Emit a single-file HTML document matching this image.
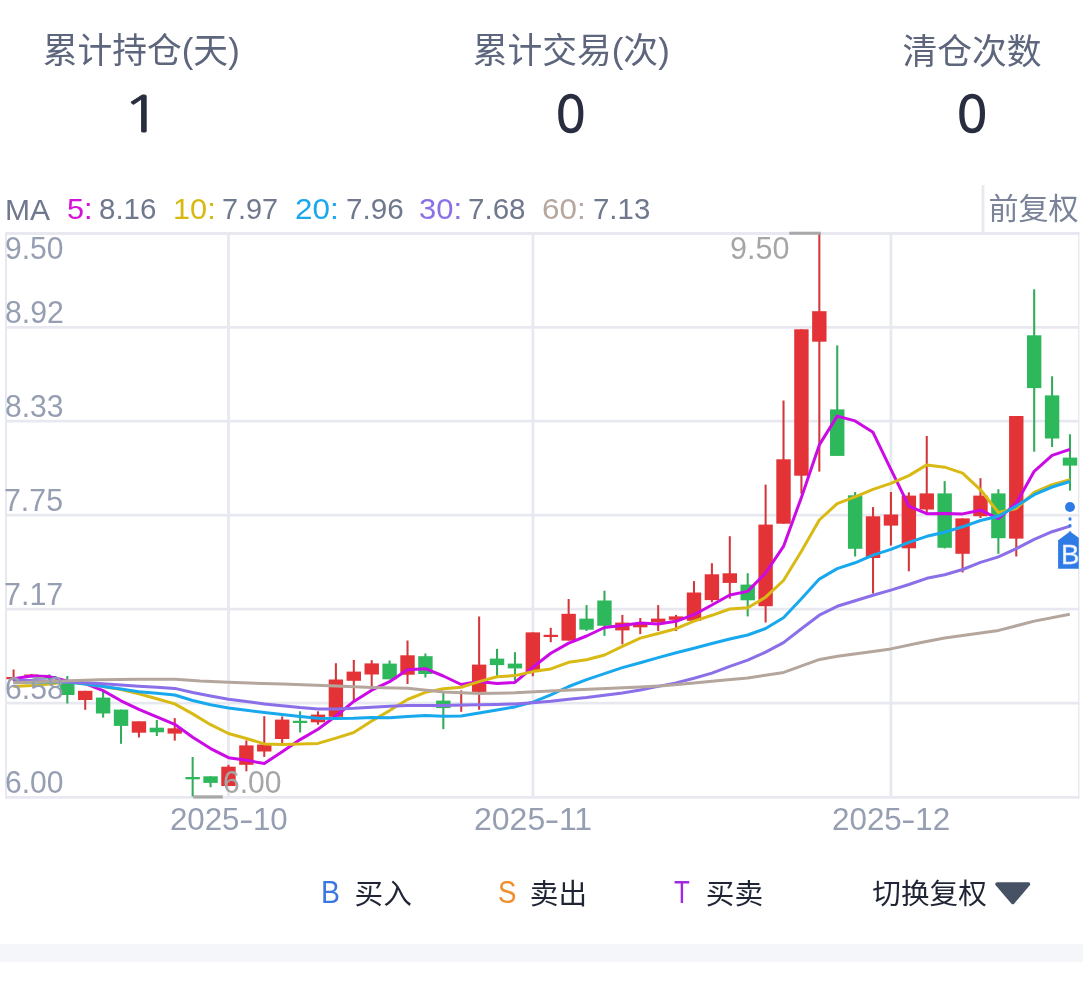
<!DOCTYPE html>
<html lang="zh-CN"><head><meta charset="utf-8"><title>持仓统计</title>
<style>
html,body{margin:0;padding:0;background:#fff;}
body{width:1083px;height:981px;position:relative;overflow:hidden;font-family:"Liberation Sans","Noto Sans CJK SC",sans-serif;}
.t{position:absolute;line-height:1;white-space:nowrap;transform-origin:0 0;font-family:"Liberation Sans","Noto Sans CJK SC",sans-serif;}
.band{position:absolute;left:0;top:944.2px;width:1083px;height:17.4px;background:#f5f6fa;}
svg{position:absolute;left:0;top:0;}
.t i{font-style:normal;display:inline-block;transform:scaleX(1.4);margin:0 1.5px;}
</style></head><body>
<svg width="1083" height="981" viewBox="0 0 1083 981">
<defs><clipPath id="cc"><rect x="0" y="230" width="1078.8" height="570"/></clipPath></defs>
<g stroke="#e8e9f0" stroke-width="2.8" fill="none">
<line x1="5" y1="233.5" x2="1079.4" y2="233.5"/>
<line x1="5" y1="327.3" x2="1079.4" y2="327.3"/>
<line x1="5" y1="421.1" x2="1079.4" y2="421.1"/>
<line x1="5" y1="515.1" x2="1079.4" y2="515.1"/>
<line x1="5" y1="609.2" x2="1079.4" y2="609.2"/>
<line x1="5" y1="703.1" x2="1079.4" y2="703.1"/>
<line x1="5" y1="797.3" x2="1079.4" y2="797.3"/>
<line x1="228.5" y1="233" x2="228.5" y2="797"/>
<line x1="532.9" y1="233" x2="532.9" y2="797"/>
<line x1="890.9" y1="233" x2="890.9" y2="797"/>
<line x1="6" y1="232.1" x2="6" y2="798.7" stroke-width="2"/>
<line x1="1078.7" y1="232.1" x2="1078.7" y2="798.7" stroke-width="1.4"/>
<line x1="983" y1="185" x2="983" y2="233" />
</g>
<g>
<rect x="12.57" y="669.5" width="2.05" height="11.5" fill="#d2383b"/>
<rect x="6.40" y="677.0" width="14.4" height="2.2" fill="#e33336"/>
<rect x="30.48" y="674.0" width="2.05" height="3.0" fill="#d2383b"/>
<rect x="24.31" y="674.5" width="14.4" height="2.5" fill="#e33336"/>
<rect x="48.39" y="674.4" width="2.05" height="7.6" fill="#33ab5a"/>
<rect x="42.21" y="676.0" width="14.4" height="2.7" fill="#2eb85c"/>
<rect x="66.29" y="676.0" width="2.05" height="27.5" fill="#33ab5a"/>
<rect x="60.11" y="681.5" width="14.4" height="13.5" fill="#2eb85c"/>
<rect x="84.19" y="690.8" width="2.05" height="19.0" fill="#d2383b"/>
<rect x="78.02" y="690.8" width="14.4" height="9.2" fill="#e33336"/>
<rect x="102.10" y="690.8" width="2.05" height="26.8" fill="#33ab5a"/>
<rect x="95.92" y="697.6" width="14.4" height="15.9" fill="#2eb85c"/>
<rect x="120.00" y="709.6" width="2.05" height="34.2" fill="#33ab5a"/>
<rect x="113.83" y="709.6" width="14.4" height="16.3" fill="#2eb85c"/>
<rect x="137.91" y="721.3" width="2.05" height="16.2" fill="#d2383b"/>
<rect x="131.74" y="721.3" width="14.4" height="11.4" fill="#e33336"/>
<rect x="155.81" y="720.0" width="2.05" height="16.0" fill="#33ab5a"/>
<rect x="149.64" y="727.7" width="14.4" height="4.6" fill="#2eb85c"/>
<rect x="173.72" y="718.1" width="2.05" height="22.5" fill="#d2383b"/>
<rect x="167.55" y="728.3" width="14.4" height="5.3" fill="#e33336"/>
<rect x="191.62" y="757.0" width="2.05" height="39.5" fill="#33ab5a"/>
<rect x="185.45" y="777.0" width="14.4" height="2.3" fill="#2eb85c"/>
<rect x="209.53" y="776.3" width="2.05" height="11.0" fill="#33ab5a"/>
<rect x="203.36" y="776.3" width="14.4" height="6.6" fill="#2eb85c"/>
<rect x="227.44" y="764.8" width="2.05" height="21.2" fill="#d2383b"/>
<rect x="221.26" y="766.7" width="14.4" height="19.3" fill="#e33336"/>
<rect x="245.34" y="740.4" width="2.05" height="30.9" fill="#d2383b"/>
<rect x="239.17" y="745.4" width="14.4" height="19.4" fill="#e33336"/>
<rect x="263.25" y="716.2" width="2.05" height="40.7" fill="#d2383b"/>
<rect x="257.07" y="744.5" width="14.4" height="7.0" fill="#e33336"/>
<rect x="281.15" y="716.4" width="2.05" height="26.6" fill="#d2383b"/>
<rect x="274.98" y="719.6" width="14.4" height="19.4" fill="#e33336"/>
<rect x="299.06" y="711.3" width="2.05" height="21.2" fill="#33ab5a"/>
<rect x="292.88" y="720.8" width="14.4" height="2.2" fill="#2eb85c"/>
<rect x="316.96" y="711.3" width="2.05" height="13.3" fill="#d2383b"/>
<rect x="310.79" y="714.6" width="14.4" height="7.7" fill="#e33336"/>
<rect x="334.87" y="663.2" width="2.05" height="53.6" fill="#d2383b"/>
<rect x="328.69" y="679.5" width="14.4" height="37.3" fill="#e33336"/>
<rect x="352.77" y="659.9" width="2.05" height="42.1" fill="#d2383b"/>
<rect x="346.60" y="671.6" width="14.4" height="9.2" fill="#e33336"/>
<rect x="370.68" y="660.2" width="2.05" height="26.3" fill="#d2383b"/>
<rect x="364.50" y="663.4" width="14.4" height="11.1" fill="#e33336"/>
<rect x="388.58" y="660.5" width="2.05" height="18.8" fill="#33ab5a"/>
<rect x="382.41" y="663.6" width="14.4" height="15.7" fill="#2eb85c"/>
<rect x="406.49" y="640.5" width="2.05" height="43.5" fill="#d2383b"/>
<rect x="400.31" y="655.3" width="14.4" height="19.4" fill="#e33336"/>
<rect x="424.39" y="653.5" width="2.05" height="24.0" fill="#33ab5a"/>
<rect x="418.22" y="656.2" width="14.4" height="17.8" fill="#2eb85c"/>
<rect x="442.30" y="692.0" width="2.05" height="37.2" fill="#33ab5a"/>
<rect x="436.12" y="700.6" width="14.4" height="7.5" fill="#2eb85c"/>
<rect x="460.20" y="690.4" width="2.05" height="21.4" fill="#d2383b"/>
<rect x="454.03" y="704.0" width="14.4" height="2.2" fill="#e33336"/>
<rect x="478.11" y="616.5" width="2.05" height="93.3" fill="#d2383b"/>
<rect x="471.93" y="664.6" width="14.4" height="27.3" fill="#e33336"/>
<rect x="496.01" y="648.9" width="2.05" height="27.3" fill="#33ab5a"/>
<rect x="489.84" y="658.6" width="14.4" height="6.5" fill="#2eb85c"/>
<rect x="513.92" y="652.2" width="2.05" height="28.6" fill="#33ab5a"/>
<rect x="507.74" y="663.6" width="14.4" height="4.8" fill="#2eb85c"/>
<rect x="531.82" y="632.4" width="2.05" height="43.8" fill="#d2383b"/>
<rect x="525.64" y="632.4" width="14.4" height="39.2" fill="#e33336"/>
<rect x="549.73" y="627.8" width="2.05" height="14.4" fill="#d2383b"/>
<rect x="543.55" y="634.8" width="14.4" height="2.2" fill="#e33336"/>
<rect x="567.63" y="599.0" width="2.05" height="41.6" fill="#d2383b"/>
<rect x="561.46" y="613.8" width="14.4" height="26.8" fill="#e33336"/>
<rect x="585.54" y="605.1" width="2.05" height="25.9" fill="#33ab5a"/>
<rect x="579.36" y="618.6" width="14.4" height="11.1" fill="#2eb85c"/>
<rect x="603.44" y="590.7" width="2.05" height="45.2" fill="#33ab5a"/>
<rect x="597.26" y="600.5" width="14.4" height="25.3" fill="#2eb85c"/>
<rect x="621.35" y="614.9" width="2.05" height="29.4" fill="#d2383b"/>
<rect x="615.17" y="622.6" width="14.4" height="7.8" fill="#e33336"/>
<rect x="639.25" y="618.0" width="2.05" height="16.1" fill="#d2383b"/>
<rect x="633.08" y="623.2" width="14.4" height="4.1" fill="#e33336"/>
<rect x="657.16" y="605.1" width="2.05" height="25.9" fill="#d2383b"/>
<rect x="650.98" y="618.6" width="14.4" height="3.5" fill="#e33336"/>
<rect x="675.06" y="614.9" width="2.05" height="16.1" fill="#d2383b"/>
<rect x="668.88" y="616.4" width="14.4" height="3.5" fill="#e33336"/>
<rect x="692.97" y="581.1" width="2.05" height="39.7" fill="#d2383b"/>
<rect x="686.79" y="592.5" width="14.4" height="28.3" fill="#e33336"/>
<rect x="710.87" y="563.2" width="2.05" height="39.1" fill="#d2383b"/>
<rect x="704.70" y="574.3" width="14.4" height="25.8" fill="#e33336"/>
<rect x="728.78" y="536.2" width="2.05" height="62.4" fill="#d2383b"/>
<rect x="722.60" y="573.3" width="14.4" height="9.6" fill="#e33336"/>
<rect x="746.68" y="573.2" width="2.05" height="43.2" fill="#33ab5a"/>
<rect x="740.50" y="584.6" width="14.4" height="15.7" fill="#2eb85c"/>
<rect x="764.59" y="484.6" width="2.05" height="137.9" fill="#d2383b"/>
<rect x="758.41" y="524.6" width="14.4" height="81.6" fill="#e33336"/>
<rect x="782.49" y="400.5" width="2.05" height="123.2" fill="#d2383b"/>
<rect x="776.32" y="459.3" width="14.4" height="64.4" fill="#e33336"/>
<rect x="800.40" y="329.3" width="2.05" height="164.5" fill="#d2383b"/>
<rect x="794.22" y="329.3" width="14.4" height="146.4" fill="#e33336"/>
<rect x="818.30" y="232.8" width="2.05" height="238.8" fill="#d2383b"/>
<rect x="812.12" y="311.2" width="14.4" height="30.5" fill="#e33336"/>
<rect x="836.21" y="345.4" width="2.05" height="110.5" fill="#33ab5a"/>
<rect x="830.03" y="409.4" width="14.4" height="46.5" fill="#2eb85c"/>
<rect x="854.11" y="492.0" width="2.05" height="64.5" fill="#33ab5a"/>
<rect x="847.94" y="495.3" width="14.4" height="53.5" fill="#2eb85c"/>
<rect x="872.02" y="507.1" width="2.05" height="86.4" fill="#d2383b"/>
<rect x="865.84" y="516.3" width="14.4" height="41.7" fill="#e33336"/>
<rect x="889.92" y="492.0" width="2.05" height="53.5" fill="#d2383b"/>
<rect x="883.75" y="514.5" width="14.4" height="11.1" fill="#e33336"/>
<rect x="907.83" y="492.3" width="2.05" height="79.0" fill="#d2383b"/>
<rect x="901.65" y="495.6" width="14.4" height="52.7" fill="#e33336"/>
<rect x="925.73" y="436.0" width="2.05" height="77.7" fill="#d2383b"/>
<rect x="919.56" y="493.4" width="14.4" height="16.1" fill="#e33336"/>
<rect x="943.64" y="481.1" width="2.05" height="67.4" fill="#33ab5a"/>
<rect x="937.46" y="493.4" width="14.4" height="54.4" fill="#2eb85c"/>
<rect x="961.54" y="518.4" width="2.05" height="54.1" fill="#d2383b"/>
<rect x="955.37" y="518.4" width="14.4" height="35.4" fill="#e33336"/>
<rect x="979.45" y="478.2" width="2.05" height="39.8" fill="#d2383b"/>
<rect x="973.27" y="495.6" width="14.4" height="20.6" fill="#e33336"/>
<rect x="997.35" y="489.2" width="2.05" height="64.6" fill="#33ab5a"/>
<rect x="991.18" y="493.4" width="14.4" height="44.8" fill="#2eb85c"/>
<rect x="1015.26" y="416.0" width="2.05" height="140.5" fill="#d2383b"/>
<rect x="1009.08" y="416.0" width="14.4" height="122.6" fill="#e33336"/>
<rect x="1033.16" y="289.3" width="2.05" height="162.4" fill="#33ab5a"/>
<rect x="1026.98" y="335.3" width="14.4" height="52.8" fill="#2eb85c"/>
<rect x="1051.06" y="376.3" width="2.05" height="70.7" fill="#33ab5a"/>
<rect x="1044.89" y="395.4" width="14.4" height="43.1" fill="#2eb85c"/>
<rect x="1068.97" y="434.3" width="2.05" height="56.3" fill="#33ab5a"/>
<rect x="1062.79" y="457.6" width="14.4" height="8.0" fill="#2eb85c"/>
</g>
<polyline points="13.6,678.8 31.5,676.0 49.4,676.6 67.3,681.0 85.2,683.5 103.1,690.6 121.0,700.8 138.9,709.3 156.8,716.8 174.7,724.3 192.7,737.2 210.6,748.6 228.5,757.7 246.4,760.3 264.3,763.5 282.2,751.8 300.1,739.6 318.0,729.2 335.9,716.0 353.8,701.4 371.7,690.2 389.6,681.7 407.5,669.8 425.4,668.7 443.3,676.0 461.2,684.5 479.1,681.6 497.0,683.5 514.9,682.4 532.8,667.3 550.8,653.3 568.7,643.1 586.6,636.0 604.5,627.5 622.4,625.6 640.3,623.0 658.2,624.0 676.1,621.3 694.0,614.7 711.9,605.0 729.8,595.0 747.7,591.4 765.6,573.0 783.5,546.4 801.4,497.4 819.3,444.9 837.2,416.1 855.1,420.9 873.0,432.3 890.9,469.3 908.9,506.2 926.8,513.7 944.7,513.5 962.6,513.9 980.5,510.2 998.4,518.7 1016.3,503.2 1034.2,471.3 1052.1,455.3 1070.0,449.3" fill="none" stroke="#cb0ae6" stroke-width="3" stroke-linejoin="round" stroke-linecap="butt"/>
<polyline points="13.6,686.6 31.5,685.5 49.4,684.0 67.3,681.5 85.2,684.0 103.1,686.5 121.0,689.6 138.9,693.8 156.8,698.7 174.7,703.9 192.7,713.9 210.6,724.7 228.5,733.5 246.4,738.5 264.3,743.9 282.2,744.5 300.1,744.1 318.0,743.4 335.9,738.1 353.8,732.5 371.7,721.0 389.6,710.6 407.5,699.5 425.4,692.4 443.3,688.7 461.2,687.3 479.1,681.6 497.0,676.7 514.9,675.6 532.8,671.6 550.8,668.9 568.7,662.3 586.6,659.8 604.5,655.0 622.4,646.4 640.3,638.1 658.2,633.5 676.1,628.7 694.0,621.1 711.9,615.3 729.8,609.0 747.7,607.7 765.6,597.2 783.5,580.5 801.4,551.2 819.3,520.0 837.2,503.7 855.1,496.9 873.0,489.3 890.9,483.4 908.9,475.6 926.8,464.9 944.7,467.2 962.6,473.1 980.5,489.8 998.4,512.5 1016.3,508.5 1034.2,492.4 1052.1,484.6 1070.0,479.7" fill="none" stroke="#d9ba14" stroke-width="3" stroke-linejoin="round" stroke-linecap="butt"/>
<polyline points="13.6,682.5 31.5,682.3 49.4,682.0 67.3,682.0 85.2,684.0 103.1,686.5 121.0,689.0 138.9,691.7 156.8,693.3 174.7,695.0 192.7,700.5 210.6,704.8 228.5,707.9 246.4,710.3 264.3,712.5 282.2,714.5 300.1,716.4 318.0,718.3 335.9,718.6 353.8,718.2 371.7,717.4 389.6,717.7 407.5,716.5 425.4,715.4 443.3,716.3 461.2,715.9 479.1,712.9 497.0,710.0 514.9,706.9 532.8,702.1 550.8,694.9 568.7,686.5 586.6,679.6 604.5,673.7 622.4,667.6 640.3,662.7 658.2,657.6 676.1,652.7 694.0,648.3 711.9,643.5 729.8,639.0 747.7,635.0 765.6,628.5 783.5,617.7 801.4,598.8 819.3,579.1 837.2,568.6 855.1,562.8 873.0,555.2 890.9,549.3 908.9,542.3 926.8,536.3 944.7,532.2 962.6,526.8 980.5,520.5 998.4,516.2 1016.3,506.1 1034.2,494.7 1052.1,487.0 1070.0,481.5" fill="none" stroke="#18a8ee" stroke-width="3" stroke-linejoin="round" stroke-linecap="butt"/>
<polyline points="13.6,680.3 31.5,680.5 49.4,681.0 67.3,682.0 85.2,682.8 103.1,683.8 121.0,685.0 138.9,686.2 156.8,687.3 174.7,688.4 192.7,692.5 210.6,696.0 228.5,699.3 246.4,701.6 264.3,703.9 282.2,705.8 300.1,707.6 318.0,708.9 335.9,708.9 353.8,708.3 371.7,707.2 389.6,706.3 407.5,705.4 425.4,705.4 443.3,705.4 461.2,705.1 479.1,704.8 497.0,704.4 514.9,703.9 532.8,702.7 550.8,701.3 568.7,699.2 586.6,697.6 604.5,695.3 622.4,693.0 640.3,690.0 658.2,686.4 676.1,682.9 694.0,678.3 711.9,673.1 729.8,666.3 747.7,660.2 765.6,652.1 783.5,642.6 801.4,628.8 819.3,615.2 837.2,606.3 855.1,600.8 873.0,595.3 890.9,590.1 908.9,584.5 926.8,578.3 944.7,574.7 962.6,569.5 980.5,562.4 998.4,556.9 1016.3,548.6 1034.2,539.3 1052.1,531.7 1070.0,526.1" fill="none" stroke="#8a6fe8" stroke-width="3" stroke-linejoin="round" stroke-linecap="butt"/>
<polyline points="13.3,682.7 62.8,681.0 99.7,679.7 138.5,679.3 175.4,679.3 200.0,681.0 228.6,682.3 282.7,684.1 336.0,686.0 372.0,687.5 407.6,688.2 443.5,691.9 479.5,693.4 515.1,692.8 560.0,690.6 600.0,688.8 640.5,686.9 663.0,685.8 693.8,683.0 720.0,680.5 747.7,677.9 783.7,672.4 819.7,659.4 837.6,656.3 872.9,651.5 890.8,648.9 920.0,642.8 944.6,638.0 998.7,630.4 1034.3,621.1 1069.8,614.3" fill="none" stroke="#b5a69d" stroke-width="3" stroke-linejoin="round" stroke-linecap="butt"/>
<line x1="789.3" y1="233.2" x2="820.8" y2="233.2" stroke="#a8a8a8" stroke-width="3"/>
<line x1="193.2" y1="796.9" x2="222.8" y2="796.9" stroke="#a8a8a8" stroke-width="3.2"/>
<g clip-path="url(#cc)">
<circle cx="1070" cy="507" r="4.95" fill="#2f7be6"/>
<line x1="1070" y1="517.4" x2="1070" y2="531.5" stroke="#2f7be6" stroke-width="2.8" stroke-dasharray="3 3.8"/>
<path d="M1070 531.4 L1081.8 540.2 L1081.8 568.7 L1058.1 568.7 L1058.1 540.2 Z" fill="#2f7be6"/>
<text x="1070.3" y="563.9" text-anchor="middle" font-size="27.6" fill="#f6f9ff" stroke="#d5e4fb" stroke-width="0.5" font-family="Liberation Sans, sans-serif">B</text>
</g>
</svg>
<span class="t" style="left:42.65px;top:34.1px;font-size:34.79px;color:#5d667c;">累计持仓(天)</span>
<span class="t" style="left:472.65px;top:34.22px;font-size:34.79px;color:#5d667c;">累计交易(次)</span>
<span class="t" style="left:902.45px;top:34.78px;font-size:34.79px;color:#5d667c;">清仓次数</span>
<span class="t" style="left:122.25px;top:89.4px;font-size:50.08px;color:#282e40;font-family:'NanumGothic','Liberation Sans',sans-serif;-webkit-text-stroke:0.8px #282e40;transform:scaleX(1.3061);">1</span>
<span class="t" style="left:556.05px;top:89.45px;font-size:50.77px;color:#282e40;font-family:'NanumGothic','Liberation Sans',sans-serif;-webkit-text-stroke:1.6px #282e40;transform:scaleX(0.9509);">0</span>
<span class="t" style="left:957.05px;top:89.45px;font-size:50.77px;color:#282e40;font-family:'NanumGothic','Liberation Sans',sans-serif;-webkit-text-stroke:1.6px #282e40;transform:scaleX(0.9736);">0</span>
<span class="t" style="left:4.9px;top:194.7px;font-size:29.89px;color:#6f788d;transform:scaleX(1.0059);">MA</span>
<span class="t" style="left:67.05px;top:194.45px;font-size:29.89px;color:#d412d8;transform:scaleX(1.0238);">5:</span>
<span class="t" style="left:99.25px;top:194.45px;font-size:29.89px;color:#6f788d;transform:scaleX(0.9874);">8.16</span>
<span class="t" style="left:173.05px;top:194.45px;font-size:29.89px;color:#d9b810;transform:scaleX(1.0274);">10:</span>
<span class="t" style="left:222.0px;top:194.45px;font-size:29.89px;color:#6f788d;transform:scaleX(0.9655);">7.97</span>
<span class="t" style="left:295.2px;top:194.45px;font-size:29.89px;color:#1ba7ec;transform:scaleX(1.0497);">20:</span>
<span class="t" style="left:345.9px;top:194.45px;font-size:29.89px;color:#6f788d;transform:scaleX(0.9919);">7.96</span>
<span class="t" style="left:418.65px;top:194.45px;font-size:29.89px;color:#8b70e8;transform:scaleX(1.0347);">30:</span>
<span class="t" style="left:468.3px;top:194.45px;font-size:29.89px;color:#6f788d;transform:scaleX(0.99);">7.68</span>
<span class="t" style="left:542.1px;top:194.45px;font-size:29.89px;color:#b7a79e;transform:scaleX(1.0497);">60:</span>
<span class="t" style="left:592.6px;top:194.45px;font-size:29.89px;color:#6f788d;transform:scaleX(0.9846);">7.13</span>
<span class="t" style="left:988.6px;top:194.38px;font-size:30.01px;color:#7a8399;">前复权</span>
<span class="t" style="left:4.7px;top:233.95px;font-size:30.88px;color:#969eb2;transform:scaleX(0.9739);">9.50</span>
<span class="t" style="left:4.95px;top:297.65px;font-size:30.88px;color:#969eb2;transform:scaleX(0.9782);">8.92</span>
<span class="t" style="left:4.95px;top:391.65px;font-size:30.88px;color:#969eb2;transform:scaleX(0.9739);">8.33</span>
<span class="t" style="left:3.9px;top:485.65px;font-size:30.88px;color:#969eb2;transform:scaleX(0.9817);">7.75</span>
<span class="t" style="left:3.9px;top:580.0px;font-size:30.88px;color:#969eb2;transform:scaleX(0.986);">7.17</span>
<span class="t" style="left:4.7px;top:673.65px;font-size:30.88px;color:#969eb2;transform:scaleX(0.9782);">6.58</span>
<span class="t" style="left:4.7px;top:767.75px;font-size:30.88px;color:#969eb2;transform:scaleX(0.9739);">6.00</span>
<span class="t" style="left:169.9px;top:803.85px;font-size:31.3px;color:#969eb2;">2025<i>-</i>10</span>
<span class="t" style="left:474.0px;top:803.85px;font-size:31.3px;color:#969eb2;transform:scaleX(1.0222);">2025<i>-</i>11</span>
<span class="t" style="left:831.5px;top:803.85px;font-size:31.3px;color:#969eb2;transform:scaleX(1.0022);">2025<i>-</i>12</span>
<span class="t" style="left:729.9px;top:234.05px;font-size:30.88px;color:#a6a6a6;transform:scaleX(0.9896);">9.50</span>
<span class="t" style="left:222.8px;top:767.95px;font-size:30.88px;color:#a6a6a6;transform:scaleX(0.9739);">6.00</span>
<span class="t" style="left:320.85px;top:876.9px;font-size:31.71px;color:#3a78e0;transform:scaleX(0.8941);">B</span>
<span class="t" style="left:354.5px;top:879.95px;font-size:28.63px;color:#1f2535;">买入</span>
<span class="t" style="left:498.15px;top:876.95px;font-size:31.71px;color:#f28d2b;transform:scaleX(0.8712);">S</span>
<span class="t" style="left:529.85px;top:880.33px;font-size:28.63px;color:#1f2535;">卖出</span>
<span class="t" style="left:674.3px;top:876.9px;font-size:31.71px;color:#a428e2;transform:scaleX(0.8167);">T</span>
<span class="t" style="left:705.8px;top:880.33px;font-size:28.63px;color:#1f2535;">买卖</span>
<span class="t" style="left:872.35px;top:880.33px;font-size:28.63px;color:#1f2535;">切换复权</span>
<svg width="40" height="26" viewBox="0 0 40 26" style="left:993px;top:881px"><path d="M4 3 H35.5 L19.8 21.5 Z" fill="#475164" stroke="#475164" stroke-width="3.5" stroke-linejoin="round"/></svg>
<div class="band"></div>
</body></html>
